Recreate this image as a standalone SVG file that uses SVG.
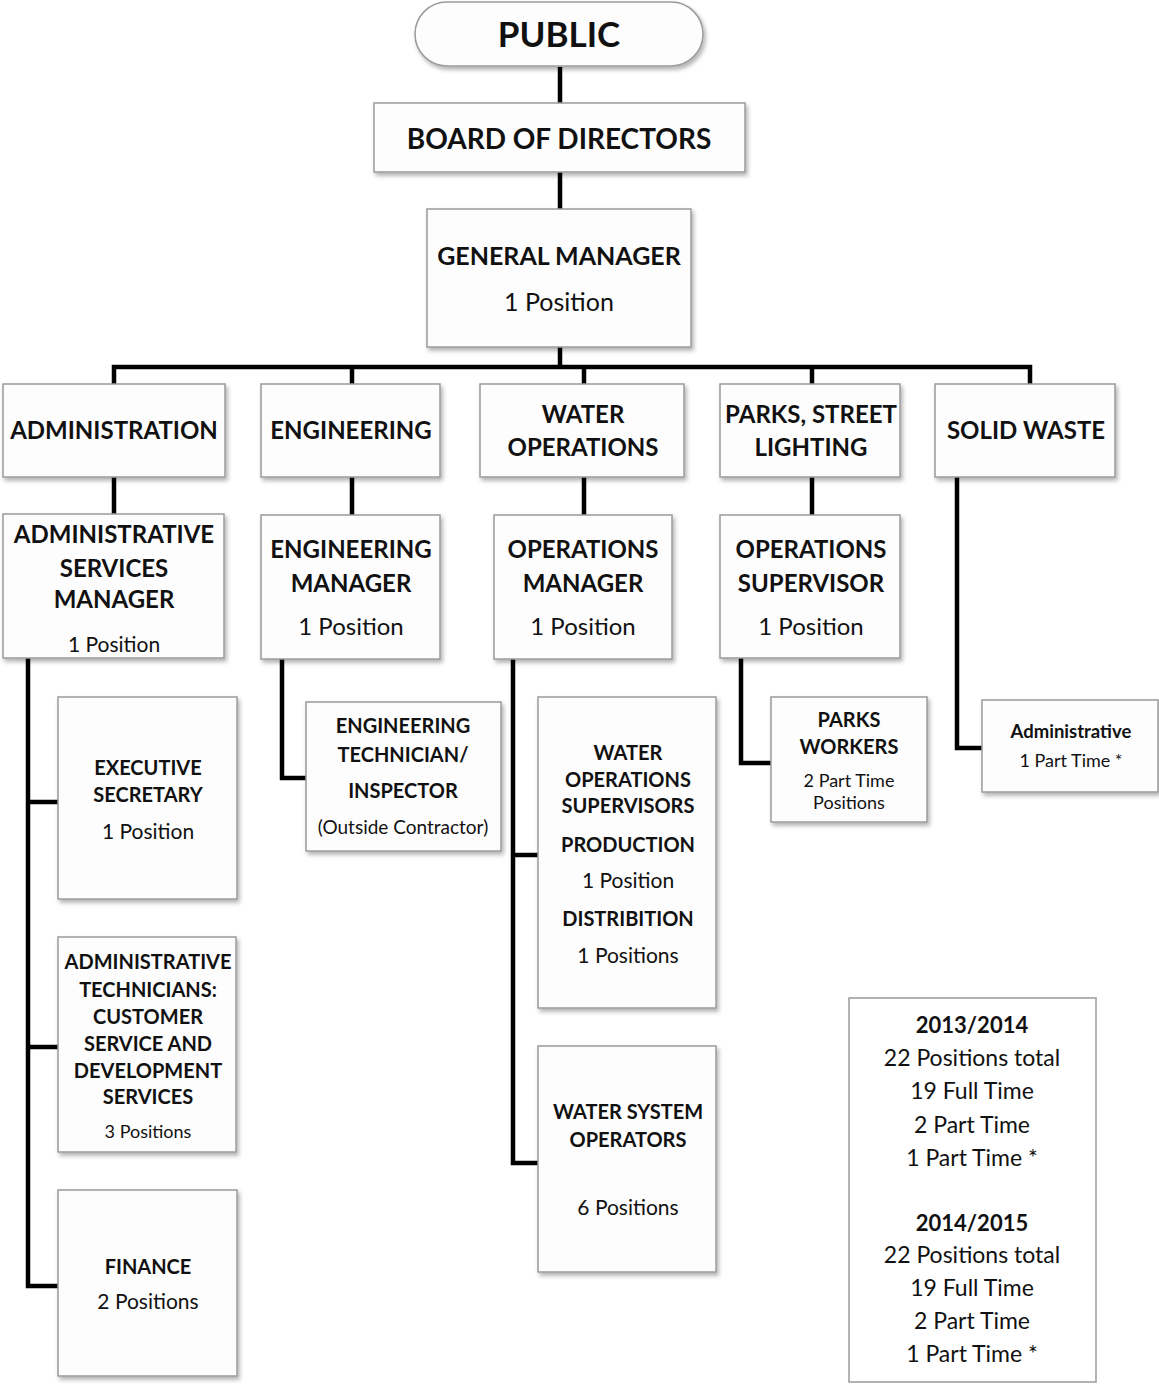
<svg xmlns="http://www.w3.org/2000/svg" width="1159" height="1384" viewBox="0 0 1159 1384">
<defs>
<filter id="sh" x="-10%" y="-10%" width="125%" height="125%">
<feDropShadow dx="2" dy="3" stdDeviation="2" flood-color="#000" flood-opacity="0.3"/>
</filter>
<style>
.box{fill:#fdfdfd;stroke:#9a9a9a;stroke-width:1.5;filter:url(#sh)}
.ln{fill:none;stroke:#000;stroke-width:4.5;stroke-linejoin:miter;stroke-linecap:butt}
text{font-family:Lato,"Liberation Sans",sans-serif;fill:#111;text-anchor:middle}
.h1{font-size:35px;font-weight:700}
.h2{font-size:28px;font-weight:700}
.h3{font-size:24px;font-weight:700}
.h3g{font-size:25px;font-weight:700}
.p3{font-size:24px;font-weight:400}
.p3g{font-size:25px;font-weight:400}
.h4{font-size:20px;font-weight:700}
.p4{font-size:21px;font-weight:400}
.p4s{font-size:19px;font-weight:400}
.h5{font-size:18.5px;font-weight:700}
.p5{font-size:18px;font-weight:400}
.s1{font-size:22px;font-weight:700}
.s2{font-size:23px;font-weight:400}
</style>
</defs>
<g id="connectors">
<path class="ln" d="M560 67V103M560 172V209M560 347V367M114 384V367H1030V384M352 367V384M584 367V384M812 367V384"/>
<path class="ln" d="M114 477V514M352 477V515M584 477V515M812 477V515"/>
<path class="ln" d="M28 658V1286H58M28 802H58M28 1047H58"/>
<path class="ln" d="M282 659V778H306"/>
<path class="ln" d="M513 659V1163H538M513 855H538"/>
<path class="ln" d="M741 658V763H771"/>
<path class="ln" d="M957 477V748H982"/>
</g>
<g id="public"><rect class="box" x="415" y="2" width="288" height="64" rx="32"/><text class="h1" x="559" y="47">PUBLIC</text></g>
<g id="board"><rect class="box" x="374" y="103" width="371" height="69"/><text class="h2" x="559" y="149">BOARD OF DIRECTORS</text></g>
<g id="gm"><rect class="box" x="427" y="209" width="264" height="138"/><text class="h3g" x="559" y="265">GENERAL MANAGER</text><text class="p3g" x="559" y="311">1 Position</text></g>
<g id="administration"><rect class="box" x="3" y="384" width="222" height="93"/><text class="h3" x="114" y="439">ADMINISTRATION</text></g>
<g id="engineering"><rect class="box" x="261" y="384" width="179" height="93"/><text class="h3" x="351" y="439">ENGINEERING</text></g>
<g id="water-operations"><rect class="box" x="480" y="384" width="204" height="93"/><text class="h3" x="583" y="423">WATER</text><text class="h3" x="583" y="456">OPERATIONS</text></g>
<g id="parks"><rect class="box" x="720" y="384" width="180" height="93"/><text class="h3" x="811" y="423">PARKS, STREET</text><text class="h3" x="811" y="456">LIGHTING</text></g>
<g id="solid-waste"><rect class="box" x="935" y="384" width="180" height="93"/><text class="h3" x="1026" y="439">SOLID WASTE</text></g>
<g id="asm"><rect class="box" x="3" y="514" width="221" height="144"/><text class="h3" x="114" y="543">ADMINISTRATIVE</text><text class="h3" x="114" y="577">SERVICES</text><text class="h3" x="114" y="608">MANAGER</text><text class="p4" x="114" y="652">1 Position</text></g>
<g id="eng-manager"><rect class="box" x="261" y="515" width="179" height="144"/><text class="h3" x="351" y="558">ENGINEERING</text><text class="h3" x="351" y="592">MANAGER</text><text class="p3" x="351" y="635">1 Position</text></g>
<g id="ops-manager"><rect class="box" x="494" y="515" width="178" height="144"/><text class="h3" x="583" y="558">OPERATIONS</text><text class="h3" x="583" y="592">MANAGER</text><text class="p3" x="583" y="635">1 Position</text></g>
<g id="ops-supervisor"><rect class="box" x="720" y="515" width="180" height="143"/><text class="h3" x="811" y="558">OPERATIONS</text><text class="h3" x="811" y="592">SUPERVISOR</text><text class="p3" x="811" y="635">1 Position</text></g>
<g id="exec-secretary"><rect class="box" x="58" y="697" width="179" height="202"/><text class="h4" x="148" y="775">EXECUTIVE</text><text class="h4" x="148" y="802">SECRETARY</text><text class="p4" x="148" y="839">1 Position</text></g>
<g id="eng-technician"><rect class="box" x="306" y="702" width="195" height="149"/><text class="h4" x="403" y="733">ENGINEERING</text><text class="h4" x="403" y="762">TECHNICIAN/</text><text class="h4" x="403" y="798">INSPECTOR</text><text class="p4s" x="403" y="834">(Outside Contractor)</text></g>
<g id="water-ops-supervisors"><rect class="box" x="538" y="697" width="178" height="311"/><text class="h4" x="628" y="760">WATER</text><text class="h4" x="628" y="787">OPERATIONS</text><text class="h4" x="628" y="813">SUPERVISORS</text><text class="h4" x="628" y="852">PRODUCTION</text><text class="p4" x="628" y="888">1 Position</text><text class="h4" x="628" y="926">DISTRIBITION</text><text class="p4" x="628" y="963">1 Positions</text></g>
<g id="parks-workers"><rect class="box" x="771" y="697" width="156" height="125"/><text class="h4" x="849" y="727">PARKS</text><text class="h4" x="849" y="754">WORKERS</text><text class="p5" x="849" y="787">2 Part Time</text><text class="p5" x="849" y="809">Positions</text></g>
<g id="sw-administrative"><rect class="box" x="982" y="700" width="176" height="92"/><text class="h5" x="1071" y="738">Administrative</text><text class="p5" x="1071" y="767">1 Part Time *</text></g>
<g id="admin-technicians"><rect class="box" x="58" y="937" width="178" height="215"/><text class="h4" x="148" y="969">ADMINISTRATIVE</text><text class="h4" x="148" y="997">TECHNICIANS:</text><text class="h4" x="148" y="1024">CUSTOMER</text><text class="h4" x="148" y="1051">SERVICE AND</text><text class="h4" x="148" y="1078">DEVELOPMENT</text><text class="h4" x="148" y="1104">SERVICES</text><text class="p5" x="148" y="1138">3 Positions</text></g>
<g id="finance"><rect class="box" x="58" y="1190" width="179" height="186"/><text class="h4" x="148" y="1274">FINANCE</text><text class="p4" x="148" y="1309">2 Positions</text></g>
<g id="water-system-operators"><rect class="box" x="538" y="1046" width="178" height="226"/><text class="h4" x="628" y="1119">WATER SYSTEM</text><text class="h4" x="628" y="1147">OPERATORS</text><text class="p4" x="628" y="1215">6 Positions</text></g>
<g id="summary"><rect x="849" y="998" width="247" height="384" fill="#fff" stroke="#9a9a9a" stroke-width="1.5"/><text class="s1" x="972" y="1033">2013/2014</text><text class="s2" x="972" y="1066">22 Positions total</text><text class="s2" x="972" y="1099">19 Full Time</text><text class="s2" x="972" y="1133">2 Part Time</text><text class="s2" x="972" y="1166">1 Part Time *</text><text class="s1" x="972" y="1231">2014/2015</text><text class="s2" x="972" y="1263">22 Positions total</text><text class="s2" x="972" y="1296">19 Full Time</text><text class="s2" x="972" y="1329">2 Part Time</text><text class="s2" x="972" y="1362">1 Part Time *</text></g>
</svg>
